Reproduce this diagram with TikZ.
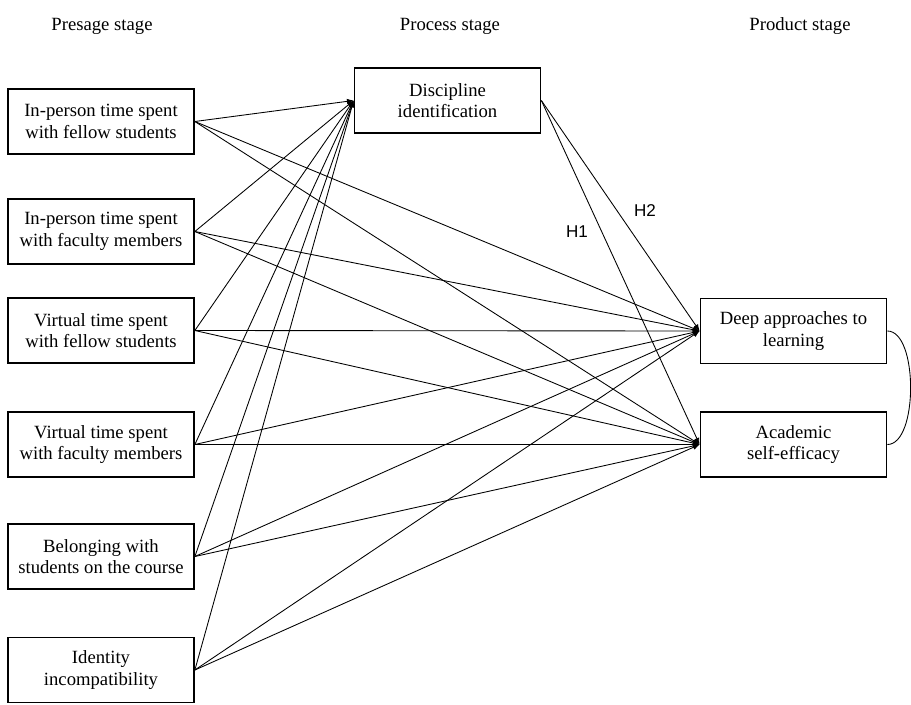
\documentclass[tikz,border=0pt]{standalone}
\usepackage{fontspec}
\setmainfont{Liberation Serif}
\newfontfamily\hypfont{Liberation Sans}
\usetikzlibrary{arrows.meta}

\tikzset{
  varbox/.style={draw, line width=1.3pt, minimum width=139.5pt, minimum height=48.75pt,
    inner sep=0pt, align=center, font=\fontsize{14}{16.3}\selectfont},
  stagelabel/.style={inner sep=0.75pt, font=\fontsize{14}{16.3}\selectfont},
  hyplabel/.style={inner sep=0.75pt, font=\hypfont\fontsize{12.8}{14}\selectfont},
  link/.style={line width=0.65pt, -{Latex[length=5pt,width=4pt]}},
}

\begin{document}
\begin{tikzpicture}[x=0.75pt,y=0.75pt,yscale=-1,xscale=1]
\useasboundingbox (0,0) rectangle (911,704);

% Stage headings
\node[stagelabel] (presage) at (102,26) {Presage stage};
\node[stagelabel] (process) at (450,26) {Process stage};
\node[stagelabel] (product) at (800,26) {Product stage};

% Presage variables
\node[varbox] (inperstud) at (101,121.5) {In-person time spent\\with fellow students};
\node[varbox] (inperfac) at (101,231.5) {In-person time spent\\with faculty members};
\node[varbox] (virtstud) at (101,330.5) {Virtual time spent\\with fellow students};
\node[varbox] (virtfac) at (101,444.5) {Virtual time spent\\with faculty members};
\node[varbox] (belong) at (101,556.5) {Belonging with\\students on the course};
\node[varbox] (incompat) at (101,670) {Identity\\incompatibility};

% Process variable
\node[varbox] (discid) at (447.5,100.5) {Discipline\\identification};

% Product variables
\node[varbox] (deep) at (793.5,331) {Deep approaches to\\learning};
\node[varbox] (selfeff) at (793.5,444.5) {Academic\\self-efficacy};

% Presage -> process
\draw[link] (inperstud.east) -- (discid.west);
\draw[link] (inperfac.east) -- (discid.west);
\draw[link] (virtstud.east) -- (discid.west);
\draw[link] (virtfac.east) -- (discid.west);
\draw[link] (belong.east) -- (discid.west);
\draw[link] (incompat.east) -- (discid.west);

% Presage -> deep approaches
\draw[link] (inperstud.east) -- (deep.west);
\draw[link] (inperfac.east) -- (deep.west);
\draw[link] (virtstud.east) -- (deep.west);
\draw[link] (virtfac.east) -- (deep.west);
\draw[link] (belong.east) -- (deep.west);
\draw[link] (incompat.east) -- (deep.west);

% Presage -> self-efficacy
\draw[link] (inperstud.east) -- (selfeff.west);
\draw[link] (inperfac.east) -- (selfeff.west);
\draw[link] (virtstud.east) -- (selfeff.west);
\draw[link] (virtfac.east) -- (selfeff.west);
\draw[link] (belong.east) -- (selfeff.west);
\draw[link] (incompat.east) -- (selfeff.west);

% Process -> product
\draw[link] (discid.east) -- (selfeff.west);
\draw[link] (discid.east) -- (deep.west);

% Hypothesis labels
\node[hyplabel] (hone) at (577,232) {H1};
\node[hyplabel] (htwo) at (645,211) {H2};

% Covariance between outcomes
\draw[line width=0.65pt] (deep.east) .. controls +(31,0) and +(31,0) .. (selfeff.east);

\end{tikzpicture}
\end{document}
